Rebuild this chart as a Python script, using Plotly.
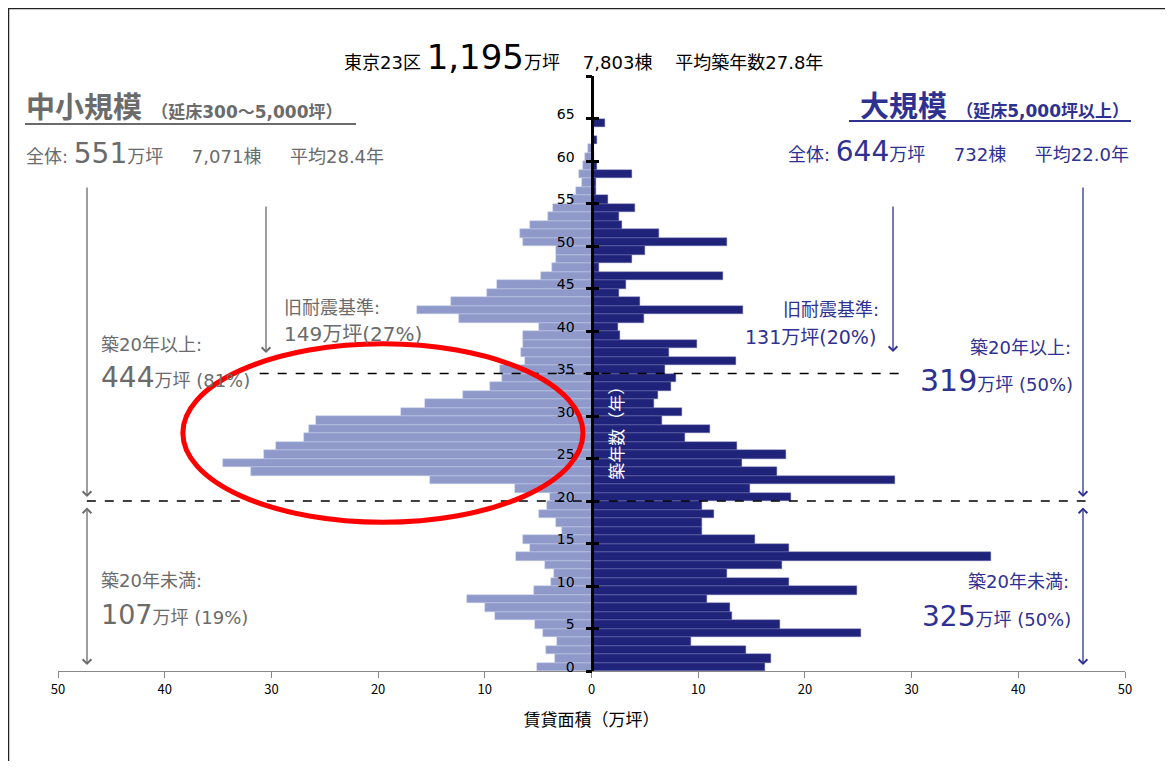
import plotly.graph_objects as go

# ---- data ----
ages = list(range(0, 65))
small_scale = [5.1, 3.4, 4.3, 3.2, 4.5, 5.3, 9.0, 10.0, 11.7, 5.4,
               3.8, 3.5, 4.4, 7.1, 5.8, 6.4, 2.8, 3.3, 4.9, 4.2,
               3.9, 7.2, 15.1, 31.9, 34.5, 30.7, 29.6, 26.9, 26.5, 25.8,
               17.9, 15.6, 12.0, 9.5, 8.4, 8.6, 6.2, 6.6, 6.45, 6.45,
               4.9, 12.4, 16.4, 13.2, 9.8, 8.9, 4.7, 3.7, 3.3, 3.3,
               6.4, 6.7, 5.8, 4.1, 3.6, 1.9, 1.45, 0.9, 1.2, 0.8,
               0.6, 0.3, 0, 0, 0]
large_scale = [16.3, 16.85, 14.5, 9.3, 25.3, 17.7, 13.2, 13.0, 10.8, 24.9,
               18.5, 12.7, 17.9, 37.4, 18.5, 15.3, 10.4, 10.4, 11.5, 10.4,
               18.7, 14.9, 28.4, 17.4, 14.1, 18.2, 13.6, 8.8, 11.1, 6.6,
               8.45, 5.9, 6.2, 7.45, 7.9, 6.9, 13.5, 7.3, 9.9, 2.7,
               2.45, 4.9, 14.2, 4.5, 2.6, 3.2, 12.3, 0.7, 3.8, 5.0,
               12.7, 6.3, 2.9, 2.6, 4.1, 1.5, 0.4, 0.4, 3.8, 0.5,
               0.2, 0, 0.55, 0, 1.3]
y_tick_labels = ["0", "5", "10", "15", "20", "25", "30", "35", "40", "45", "50", "55", "60", "65"]
x_tick_vals = [-50, -40, -30, -20, -10, 0, 10, 20, 30, 40, 50]

FONT = "DejaVu Sans, Noto Sans CJK JP"
CJK = "Noto Sans CJK JP"
LEFT_C = "#8f9acb"
RIGHT_C = "#1f2379"
GRAY = "#6b6b6b"
NAVY = "#2e3192"

# the page adds an 8px body margin: design in screen coordinates, shift by OFF
OFF = 8
W, H = 1173 - 2 * OFF, 769 - 2 * OFF
L, R, T, B = 58, 1125, 76, 671          # plot area in screen coordinates


def px(x):
    return (x - L) / (R - L)


def py(y):
    return (B - y) / (B - T)


fig = go.Figure()
ycent = [a + 0.5 for a in ages]
fig.add_trace(go.Bar(y=ycent, x=[-v for v in small_scale], orientation="h", width=1,
                     marker=dict(color=LEFT_C, line=dict(color="#c3c9e6", width=0.5)),
                     showlegend=False, hoverinfo="skip"))
fig.add_trace(go.Bar(y=ycent, x=large_scale, orientation="h", width=1,
                     marker=dict(color=RIGHT_C, line=dict(color="#6e72b0", width=0.4)),
                     showlegend=False, hoverinfo="skip"))
fig.add_trace(go.Scatter(x=[None], y=[None], yaxis="y2", showlegend=False, hoverinfo="skip"))
fig.add_trace(go.Scatter(x=[None], y=[None], yaxis="y3", showlegend=False, hoverinfo="skip"))

ytickc = [int(s) + 0.5 for s in y_tick_labels]
yticks = list(range(0, 71, 5))

fig.update_layout(
    width=W, height=H,
    margin=dict(l=L - OFF, r=W - (R - OFF), t=T - OFF, b=H - (B - OFF)),
    paper_bgcolor="white", plot_bgcolor="white",
    barmode="overlay", bargap=0,
    font=dict(family=FONT, color="black"),
    xaxis=dict(range=[-50, 50], tickvals=x_tick_vals,
               ticktext=[str(abs(v)) for v in x_tick_vals],
               ticks="outside", ticklen=6, tickcolor="#888", showline=True,
               linecolor="#888", linewidth=1, showgrid=False, zeroline=False,
               tickfont=dict(size=13, color="black", family=CJK),
               title=dict(text="賃貸面積（万坪）", font=dict(size=17, color="black", family=CJK), standoff=17)),
    yaxis=dict(range=[0, 70], tickvals=ytickc, ticktext=y_tick_labels, ticks="",
               showline=True, linecolor="black", linewidth=3, anchor="free", position=0.5,
               showgrid=False, zeroline=False, ticklabelstandoff=13,
               tickfont=dict(size=14, color="black", family=FONT)),
    yaxis2=dict(range=[0, 70], overlaying="y", tickvals=yticks, ticks="outside", ticklen=6,
                tickwidth=2.5, tickcolor="black", showticklabels=False, anchor="free",
                position=0.5, showline=False, showgrid=False, zeroline=False),
    yaxis3=dict(range=[0, 70], overlaying="y", tickvals=yticks, ticks="inside", ticklen=6,
                tickwidth=2.5, tickcolor="black", showticklabels=False, anchor="free",
                position=0.5, showline=False, showgrid=False, zeroline=False),
)

shapes = []
shapes.append(dict(type="line", xref="x", yref="y", x0=-31.1, x1=29.4, y0=35, y1=35,
                   line=dict(color="black", width=1.3, dash="dash")))
shapes.append(dict(type="line", xref="x", yref="y", x0=-47.3, x1=46.3, y0=20, y1=20,
                   line=dict(color="black", width=1.3, dash="dash")))
shapes.append(dict(type="circle", xref="x", yref="y", x0=-38.3, x1=-0.8, y0=17.5, y1=38.5,
                   line=dict(color="#ff0000", width=5)))
shapes.append(dict(type="line", xref="paper", yref="paper", x0=px(25), x1=px(356),
                   y0=py(124), y1=py(124), line=dict(color=GRAY, width=2)))
shapes.append(dict(type="line", xref="paper", yref="paper", x0=px(849), x1=px(1131),
                   y0=py(121), y1=py(121), line=dict(color=NAVY, width=2)))
shapes.append(dict(type="rect", xref="paper", yref="paper", x0=px(OFF + 0.5), x1=px(1300),
                   y0=py(OFF + 0.5), y1=py(900), line=dict(color="#222", width=1.5)))
fig.update_layout(shapes=shapes)

ann = []


def text(x, y, t, size, color, anchor="left"):
    ann.append(dict(xref="paper", yref="paper", x=px(x), y=py(y), text=t, showarrow=False,
                    xanchor=anchor, yanchor="middle", font=dict(size=size, color=color, family=FONT)))


def arrow(x, y_tip, y_tail, color, both=False):
    d = dict(xref="paper", yref="paper", x=px(x), y=py(y_tip), ax=0, ay=-(y_tip - y_tail),
             text="", showarrow=True, arrowhead=4, arrowsize=1.3, arrowwidth=1.3,
             arrowcolor=color)
    if both:
        d.update(arrowside="end+start", startarrowhead=4, startarrowsize=1.3)
    ann.append(d)


def big(s, size):
    return '<span style="font-size:%dpx">%s</span>' % (size, s)


SP4 = "\u00a0" * 4
SP5 = "\u00a0" * 5
text(583, 57, '東京23区 ' + big('1,195', 34) + '万坪' + SP4 + '7,803棟' + SP4 + '平均築年数27.8年',
     18, "black", "center")

# left side
text(24, 108, '<b>中小規模</b> <b><span style="font-size:17px">（延床300～5,000坪）</span></b>', 29, GRAY)
text(24, 153, '全体: ' + big('551', 28) + '万坪' + SP5 + '7,071棟' + SP5 + '平均28.4年', 18, GRAY)
text(99, 344, '築20年以上:', 18, GRAY)
text(99, 377, big('444', 28) + '万坪 (81%)', 18, GRAY)
text(282, 307, '旧耐震基準:', 18, GRAY)
text(282, 334, '149万坪(27%)', 20, GRAY)
text(99, 580, '築20年未満:', 18, GRAY)
text(99, 614, big('107', 27) + '万坪 (19%)', 18, GRAY)

# right side
text(1131, 107, '<b>大規模</b> <b><span style="font-size:17px">（延床5,000坪以上）</span></b>', 29, NAVY, "right")
text(1131, 151, '全体: ' + big('644', 28) + '万坪' + SP5 + '732棟' + SP5 + '平均22.0年', 18, NAVY, "right")
text(881, 309, '旧耐震基準:', 18, NAVY, "right")
text(878, 337, '131万坪(20%)', 19, NAVY, "right")
text(1073, 347, '築20年以上:', 18, NAVY, "right")
text(1075, 380, big('319', 30) + '万坪 (50%)', 18, NAVY, "right")
text(1071, 581, '築20年未満:', 18, NAVY, "right")
text(1073, 616, big('325', 28) + '万坪 (50%)', 18, NAVY, "right")

ann.append(dict(xref="x", yref="y", x=2.3, y=28.5, text="築年数（年）", textangle=-90,
                showarrow=False, font=dict(size=17, color="white", family=CJK)))

arrow(87, 497, 186, GRAY)
arrow(266, 353, 205, GRAY)
arrow(87, 665, 506, GRAY, both=True)
arrow(893, 352, 205, NAVY)
arrow(1083, 497, 186, NAVY)
arrow(1083, 665, 506, NAVY, both=True)

fig.update_layout(annotations=ann)
fig.write_html("out.html")
